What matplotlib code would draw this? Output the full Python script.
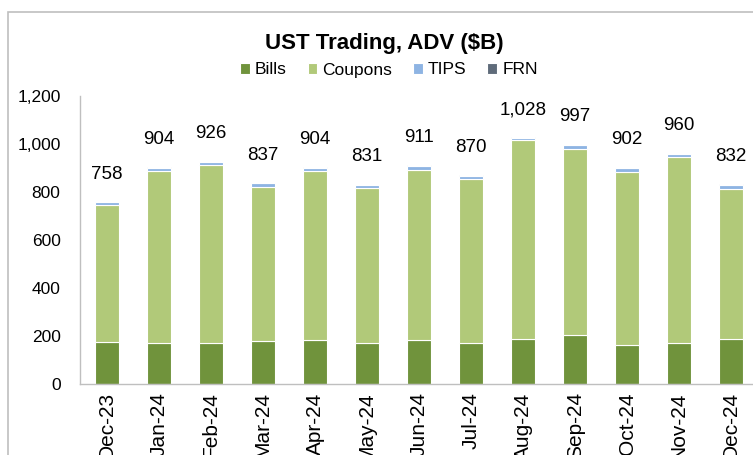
import matplotlib
matplotlib.use("Agg")
import matplotlib.pyplot as plt
import numpy as np
from matplotlib.patches import Rectangle

plt.rcParams['font.family'] = ['Liberation Sans', 'DejaVu Sans']

months = ['Dec-23', 'Jan-24', 'Feb-24', 'Mar-24', 'Apr-24', 'May-24', 'Jun-24',
          'Jul-24', 'Aug-24', 'Sep-24', 'Oct-24', 'Nov-24', 'Dec-24']
bills = [176, 169, 169, 179, 182, 169, 183, 172, 187, 204, 163, 172, 186]
coupons = [568, 718, 743, 643, 705, 646, 709, 681, 828, 775, 719, 772, 627]
tips = [13, 15, 13, 14, 15, 14, 17, 15, 12, 16, 18, 14, 17]
frn = [1, 2, 1, 1, 2, 2, 2, 2, 1, 2, 2, 2, 2]
totals = [758, 904, 926, 837, 904, 831, 911, 870, 1028, 997, 902, 960, 832]

colors = ['#70933C', '#B1C979', '#8EB4E3', '#5F6B7A']
names = ['Bills', 'Coupons', 'TIPS', 'FRN']

fig = plt.figure(figsize=(7.53, 4.55), dpi=100)
ax = fig.add_axes([80/753, 71/455, 673/753, 288/455])

x = np.arange(len(months))
bottom = np.zeros(len(months))
for vals, c, n in zip([bills, coupons, tips, frn], colors, names):
    ax.bar(x, vals, 0.46, bottom=bottom, color=c, edgecolor='white',
           linewidth=0.8, label=n, zorder=2)
    bottom += np.array(vals)

for xi, top, t in zip(x, bottom, totals):
    ax.annotate(f'{t:,}', (xi, top), xytext=(0, 20), textcoords='offset points',
                ha='center', va='center', fontsize=13.5)

ax.set_xlim(-0.52, 12.42)
ax.set_ylim(0, 1200)
ax.set_yticks(range(0, 1201, 200))
ax.set_yticklabels([f'{v:,}' for v in range(0, 1201, 200)], fontsize=12.5)
ax.set_xticks(x)
ax.set_xticklabels(months, rotation=90, fontsize=15, va='top')
ax.tick_params(axis='y', length=0, pad=14)
ax.tick_params(axis='x', length=0, pad=6)
for s in ['top', 'right']:
    ax.spines[s].set_visible(False)
for s in ['left', 'bottom']:
    ax.spines[s].set_color('#BFBFBF')
    ax.spines[s].set_linewidth(1)

fig.text(384/753, 1 - 43/455, 'UST Trading, ADV ($B)', ha='center', va='center',
         fontsize=16, fontweight='bold')
fig.legend(loc='center', bbox_to_anchor=(389/753, 1 - 70/455), ncol=4,
           frameon=False, fontsize=12.5, handlelength=0.55, handleheight=0.55,
           handletextpad=0.3, columnspacing=1.2)

fig.patches.append(Rectangle((8/753, -0.1), 1.2, 1 - 12/455 + 0.1,
                             transform=fig.transFigure, fill=False,
                             edgecolor='#BFBFBF', linewidth=1.2))

fig.savefig('out.png', dpi=100)
